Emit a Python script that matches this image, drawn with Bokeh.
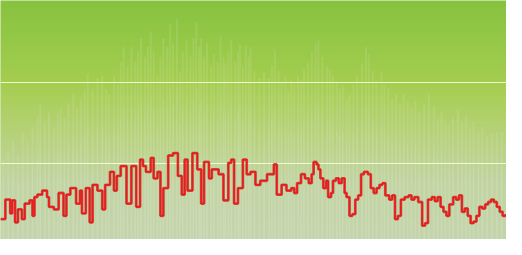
import numpy as np
from bokeh.plotting import figure
from bokeh.embed import file_html
from bokeh.resources import INLINE

# Red step series (x position along the period, value)
red_x = [0, 5, 10, 12, 15, 18, 22, 25, 30, 33, 35, 38, 43, 48, 50, 55, 60, 65, 68, 72,
         75, 78, 82, 84, 88, 92, 95, 100, 105, 108, 113, 117, 120, 124, 130, 135, 140, 144, 147,
         150, 155, 158, 162, 165, 168, 173, 178, 183, 187, 190, 193, 198, 203, 207, 210, 215, 218,
         225, 230, 235, 238, 241, 245, 250, 254, 258, 263, 268, 275, 282, 285, 290, 295,
         300, 303, 306, 310, 314, 318, 321, 323, 326, 328, 330, 333, 336, 338, 341, 343, 346, 349,
         352, 355, 357, 360, 363, 366, 369, 372, 375, 379, 382, 385, 388, 391, 394, 397, 401, 404,
         407, 410, 413, 417, 421, 424, 427, 431, 435, 438, 441, 445, 448, 451, 454, 457, 460, 463,
         467, 470, 473, 476, 479, 482, 485, 488, 491, 494, 497, 500, 503, 506, 509, 512, 515, 518, 521]
red_v = [32, 56, 39, 55, 28, 44, 32, 51, 55, 36, 59, 62, 67, 59, 47, 44, 64, 36, 62, 70,
         70, 51, 67, 39, 70, 28, 74, 67, 44, 74, 90, 67, 85, 97, 51, 97, 47, 105, 97,
         90, 107, 82, 90, 36, 70, 110, 113, 85, 62, 105, 67, 113, 93, 51, 102, 82, 93,
         87, 55, 101, 105, 51, 70, 105, 87, 90, 74, 79, 87, 99, 62, 74, 67,
         70, 64, 76, 87, 82, 76, 87, 102, 99, 93, 82, 70, 79, 59, 64, 79, 82, 76,
         82, 64, 59, 36, 38, 56, 61, 87, 90, 87, 70, 64, 70, 74, 76, 61, 56, 61,
         32, 36, 56, 59, 61, 56, 59, 53, 24, 27, 56, 59, 54, 59, 47, 41, 36, 50,
         59, 56, 61, 41, 45, 36, 27, 29, 36, 47, 45, 50, 53, 56, 53, 47, 41, 36, 38]

# Faint background bars
bar_x = [3, 8, 13, 18, 23, 28, 33, 38, 41, 46, 50, 55, 59, 62, 66, 70, 75, 79, 83, 87,
         90, 95, 100, 105, 109, 112, 117, 121, 124, 127, 131, 135, 139, 142, 145, 149, 152, 155, 158,
         162, 165, 168, 172, 175, 178, 182, 185, 188, 192, 196, 199, 202, 205, 207, 210, 213, 217,
         220, 224, 227, 230, 232, 235, 238, 242, 245, 247, 250, 253, 256, 258, 262, 267, 272, 277,
         280, 283, 287, 290, 294, 297, 300, 303, 307, 310, 313, 317, 321, 325, 328, 332, 337, 340,
         343, 347, 350, 353, 357, 360, 364, 368, 373, 377, 380, 384, 388, 393, 396, 400, 404, 408,
         412, 416, 420, 424, 428, 432, 437, 442, 447, 451, 455, 459, 463, 467, 472, 476, 480, 484,
         488, 493, 497, 502, 507, 512, 517]
bar_v = [105, 116, 128, 110, 139, 128, 145, 156, 174, 151, 162, 145, 162, 168, 156, 174, 185, 168, 179, 191,
         210, 191, 205, 208, 191, 185, 208, 197, 225, 243, 220, 243, 225, 237, 254, 231, 243, 262, 237,
         208, 231, 254, 243, 271, 248, 277, 212, 237, 251, 231, 254, 274, 243, 254, 231, 248, 220,
         234, 225, 256, 231, 223, 237, 251, 225, 237, 246, 220, 245, 231, 243, 214, 205, 212, 205,
         220, 240, 214, 200, 208, 189, 202, 197, 208, 202, 216, 225, 237, 248, 251, 231, 220, 214,
         208, 200, 191, 197, 179, 185, 197, 208, 223, 243, 234, 214, 202, 212, 197, 193, 179, 185,
         174, 185, 177, 168, 177, 162, 174, 185, 170, 156, 162, 151, 147, 156, 166, 151, 159, 145,
         151, 139, 145, 133, 136, 139, 139]

grid_levels = [100, 200]

X0, X1 = 0, 522
Y0, Y1 = 7, 300

p = figure(width=506, height=239, x_range=(X0, X1), y_range=(Y0, Y1),
           output_backend="svg", toolbar_location=None, min_border=0)
p.axis.visible = False
p.grid.visible = False
p.outline_line_color = None
p.background_fill_color = "#b4d27a"
p.border_fill_color = "#b4d27a"

# vertical background gradient (style)
H = 256
t = np.linspace(0, 1, H)[:, None]  # 0 bottom -> 1 top
stops_t = [0.0, 0.25, 0.45, 0.65, 1.0]
stops_c = np.array([[196, 213, 172], [193, 212, 160], [182, 210, 120], [166, 206, 80], [135, 195, 64]], float)
cols = np.stack([np.interp(t[:, 0], stops_t, stops_c[:, k]) for k in range(3)], axis=1)
img = np.zeros((H, 1), dtype=np.uint32)
view = img.view(dtype=np.uint8).reshape((H, 1, 4))
view[:, 0, 0] = cols[:, 0].astype(np.uint8)
view[:, 0, 1] = cols[:, 1].astype(np.uint8)
view[:, 0, 2] = cols[:, 2].astype(np.uint8)
view[:, 0, 3] = 255
p.image_rgba(image=[img], x=X0, y=Y0, dw=X1 - X0, dh=Y1 - Y0)

p.vbar(x=bar_x, top=bar_v, bottom=Y0, width=2.0, fill_color="#eef0e6", fill_alpha=0.13, line_color=None)
p.vbar(x=bar_x, top=[v * 0.7 for v in bar_v], bottom=Y0, width=1.4, fill_color="#ffffff", fill_alpha=0.07, line_color=None)

p.hspan(y=grid_levels, line_color="#f4fbd8", line_width=1.2, line_alpha=0.95)

p.step(red_x, red_v, mode="after", line_color="#b01c1c", line_width=2.8, line_alpha=0.6)
p.step(red_x, red_v, mode="after", line_color="#ee1a1a", line_width=1.7)

open("out.html", "w").write(file_html(p, INLINE))
